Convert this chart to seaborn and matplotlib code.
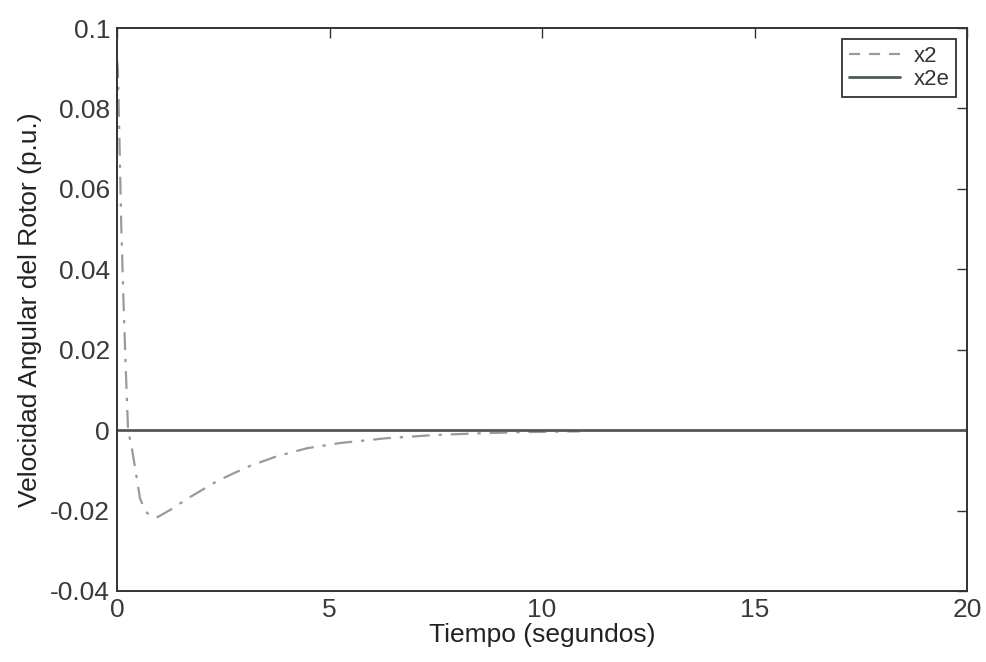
import numpy as np
import pandas as pd
import matplotlib
matplotlib.use("Agg")
import matplotlib.pyplot as plt
import seaborn as sns

# Data
t_x2 = [0.0, 0.02, 0.05, 0.08, 0.10, 0.15, 0.20, 0.26, 0.35, 0.45, 0.54, 0.65, 0.78, 0.96,
        1.29, 1.60, 1.95, 2.35, 2.75, 3.13, 3.76, 4.47, 5.25, 6.35, 7.5, 8.5, 9.5, 10.9]
v_x2 = [0.092, 0.090, 0.076, 0.061, 0.051, 0.033, 0.017, 0.0, -0.0045, -0.011, -0.0169, -0.0198,
        -0.0214, -0.0216, -0.0196, -0.0174, -0.0152, -0.0127, -0.0107, -0.0089, -0.0065,
        -0.0045, -0.0032, -0.0020, -0.0012, -0.0008, -0.0005, -0.0003]
t_x2e = [0.0, 20.0]
v_x2e = [0.0, 0.0]

xticks = [0, 5, 10, 15, 20]
yticks = [-0.04, -0.02, 0, 0.02, 0.04, 0.06, 0.08, 0.1]
ytick_labels = ["-0.04", "-0.02", "0", "0.02", "0.04", "0.06", "0.08", "0.1"]

sns.set_style("white")
plt.rcParams["font.family"] = ["Liberation Sans", "DejaVu Sans"]

fig = plt.figure(figsize=(9.87, 6.62), dpi=100)
ax = fig.add_axes([117/987, (662-591)/662, (967-117)/987, (591-28)/662])

df1 = pd.DataFrame({"t": t_x2, "v": v_x2})
df2 = pd.DataFrame({"t": t_x2e, "v": v_x2e})
sns.lineplot(data=df1, x="t", y="v", ax=ax, color="#9a9a9a", lw=1.6,
             linestyle=(0, (8, 4, 1.5, 4)), label="x2", estimator=None, sort=False)
sns.lineplot(data=df2, x="t", y="v", ax=ax, color="#505a58", lw=2.0,
             label="x2e", estimator=None, sort=False)

ax.set_xlim(0, 20)
ax.set_ylim(-0.04, 0.1)
ax.set_xticks(xticks)
ax.set_xticklabels([str(x) for x in xticks])
ax.set_yticks(yticks)
ax.set_yticklabels(ytick_labels)
ax.tick_params(direction="in", length=7, width=1, colors="#333333", labelsize=19,
               top=True, right=True, labelcolor="#3a3a3a", pad=5)
for s in ax.spines.values():
    s.set_color("#333333")
    s.set_linewidth(1.4)

ax.set_xlabel("Tiempo (segundos)", fontsize=19, color="#222222", labelpad=1)
ax.set_ylabel("Velocidad Angular del Rotor (p.u.)", fontsize=19, color="#222222", labelpad=6)

leg = ax.legend(loc="upper right", fontsize=16, frameon=True, fancybox=False,
                edgecolor="#333333", framealpha=1, handlelength=2.3,
                borderaxespad=0.5, labelspacing=0.1, borderpad=0.3, handletextpad=0.6)
leg.get_frame().set_linewidth(1.3)
leg.get_lines()[0].set_linestyle((0, (5, 4)))
for txt in leg.get_texts():
    txt.set_color("#333333")

fig.savefig("out.png", dpi=100, facecolor="white")
